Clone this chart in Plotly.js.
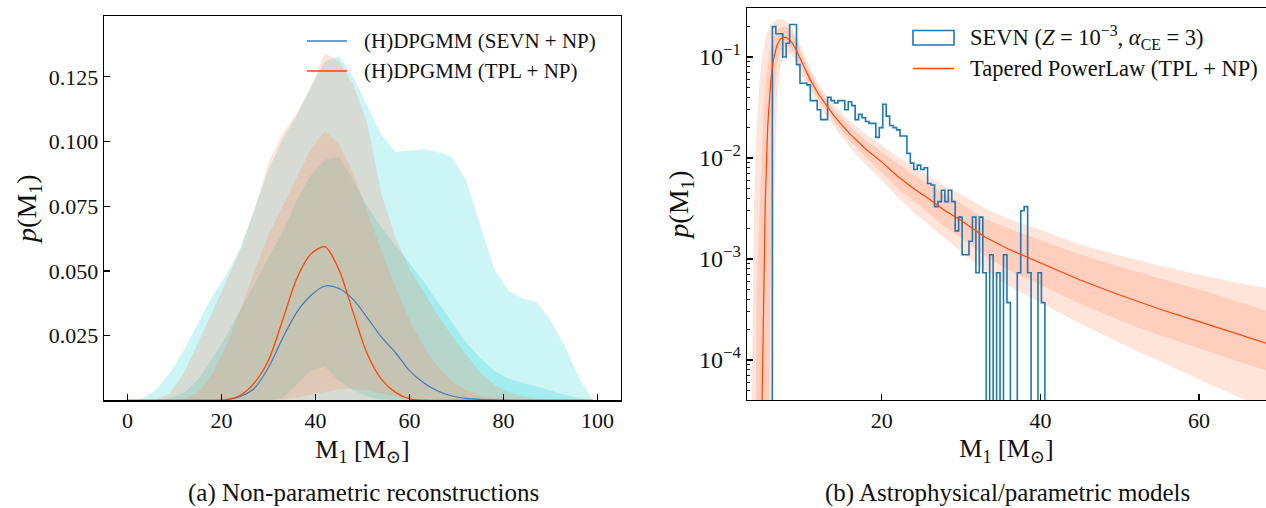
<!DOCTYPE html>
<html>
<head>
<meta charset="utf-8">
<script src="https://cdn.plot.ly/plotly-3.0.1.min.js"></script>
<style>html,body{margin:0;padding:0;background:#fff;}</style>
</head>
<body>
<div id="chart" style="width:1266px;height:508px;"></div>
<script>
// ---------- (a) Non-parametric reconstructions ----------
const massGrid = [0,3,6,9,12,15,18,21,24,27,30,33,36,39,42,45,48,51,54,57,60,63,66,69,72,75,78,81,84,87,90,93,96,99];

// SEVN + NP : 90% and 68% credible bands, median
const sevnLo90 = [0,0,0,0,0,0,0,0,0,0,0,0,0,0,0,0,0,0,0,0,0,0,0,0,0,0,0,0,0,0,0,0,0,0];
const sevnHi90 = [0,0.0005,0.004,0.0105,0.0195,0.030,0.040,0.0485,0.059,0.074,0.089,0.101,0.110,0.121,0.131,0.133,0.125,0.114,0.1025,0.096,0.0965,0.097,0.096,0.094,0.085,0.068,0.051,0.0425,0.0395,0.038,0.031,0.021,0.009,0];
const sevnLo68 = [0,0,0,0,0,0,0,0,0,0,0,0.001,0.006,0.0115,0.013,0.0075,0.004,0.0015,0.0003,0,0,0,0,0,0,0,0,0,0,0,0,0,0,0];
const sevnHi68 = [0,0,0,0.001,0.003,0.008,0.016,0.025,0.035,0.045,0.055,0.065,0.077,0.087,0.093,0.094,0.085,0.075,0.067,0.060,0.053,0.046,0.038,0.030,0.0225,0.0165,0.0115,0.0085,0.0068,0.0055,0.0038,0.0022,0.0008,0];
const sevnMedian = [0,0,0,0,0,0,0,0.0002,0.0015,0.0047,0.0127,0.024,0.034,0.0405,0.0442,0.0432,0.039,0.032,0.0245,0.0185,0.0115,0.0068,0.0036,0.0017,0.0008,0.0004,0.0002,0.0001,0,0,0,0,0,0];

// TPL + NP : 90% and 68% credible bands, median
const tplLo90 = [0,0,0,0,0,0,0,0,0,0,0,0,0,0,0,0,0,0,0,0,0,0,0,0,0,0,0,0,0,0,0,0,0,0];
const tplHi90 = [0,0,0.0003,0.0028,0.0105,0.022,0.034,0.046,0.058,0.0734,0.092,0.103,0.111,0.121,0.134,0.131,0.122,0.107,0.080,0.063,0.051,0.042,0.033,0.025,0.018,0.0108,0.006,0.0033,0.0016,0.0006,0.0001,0,0,0];
const tplLo68 = [0,0,0,0,0,0,0,0,0,0,0,0.0003,0.001,0.0022,0.0033,0.0042,0.0045,0.0038,0.0026,0.0015,0.0007,0.0002,0,0,0,0,0,0,0,0,0,0,0,0];
const tplHi68 = [0,0,0,0,0.0005,0.003,0.01,0.021,0.035,0.05,0.064,0.075,0.086,0.097,0.104,0.099,0.088,0.073,0.058,0.044,0.031,0.021,0.013,0.0075,0.004,0.002,0.0008,0.0002,0,0,0,0,0,0];
const tplMedian = [0,0,0,0,0,0,0,0.0003,0.002,0.0068,0.0155,0.031,0.047,0.0565,0.0594,0.0505,0.034,0.018,0.0082,0.0031,0.0006,0.0001,0,0,0,0,0,0,0,0,0,0,0,0];

const leftXTicks = [0,20,40,60,80,100];
const leftYTicks = [0.025,0.050,0.075,0.100,0.125];

// ---------- (b) Astrophysical / parametric models ----------
// SEVN (Z = 1e-3, alpha_CE = 3) histogram, density per bin
const binStart = 6.2;
const binWidth = 0.435;
const sevnDensity = [
  0.20, 0.17, 0.17, 0.10, 0.137, 0.21, 0.21, 0.084, 0.055, 0.055,
  0.053, 0.037, 0.037, 0.030, 0.024, 0.024, 0.040, 0.037, 0.035, 0.037,
  0.037, 0.030, 0.036, 0.033, 0.024, 0.027, 0.025, 0.023, 0.022, 0.022,
  0.016, 0.020, 0.034, 0.026, 0.021, 0.020, 0.019, 0.0165, 0.0165, 0.0111,
  0.0089, 0.0077, 0.0085, 0.0077, 0.0080, 0.0056, 0.0054, 0.0033, 0.0037, 0.0048,
  0.0037, 0.0048, 0.0037, 0.0019, 0.0026, 0.0011, 0.0011, 0.0015, 0.0026, 0.00073,
  0.0026, 0.00073, 0, 0.0011, 0, 0.00073, 0, 0.0011, 0.00037, 0,
  0, 0.00073, 0.0030, 0.0033, 0.00073, 0, 0, 0.00073, 0.00037
];

// Tapered power law (TPL + NP): median with 68% and 90% bands
const tplMass = [3.2,3.6,3.9,4.2,4.6,4.9,5.1,5.3,5.6,5.8,6.0,6.2,6.4,6.8,7.2,7.6,8.0,8.6,9.2,10,11,12,13,14,15,16,18,20,22,24,26,28,30,33,36,40,45,50,55,60,65,69];
const tplMed = [0,0,0,0,0,4e-5,7e-4,0.0035,0.02,0.037,0.058,0.08,0.1,0.132,0.15,0.157,0.155,0.142,0.118,0.086,0.059,0.043,0.033,0.026,0.021,0.0172,0.0122,0.0091,0.0066,0.0050,0.0039,0.0030,0.0024,0.00165,0.00125,0.00092,0.00062,0.00044,0.00032,0.00024,0.000178,0.000142];
const tplHi95 = [0,5e-5,0.004,0.02,0.06,0.1,0.125,0.15,0.18,0.195,0.207,0.217,0.225,0.233,0.236,0.233,0.225,0.203,0.165,0.116,0.0767,0.055,0.0419,0.0333,0.0273,0.0229,0.0171,0.0134,0.0102,0.0081,0.00655,0.00525,0.00437,0.00317,0.0025,0.00195,0.00138,0.00108,0.00086,0.0007,0.00058,0.00051];
const tplLo5 = [0,0,0,0,0,0,0,0,0,0,0,5e-5,0.003,0.04,0.08,0.1,0.108,0.105,0.09,0.0636,0.0454,0.0335,0.0261,0.0203,0.016,0.0127,0.0085,0.006,0.0041,0.0029,0.00215,0.00156,0.00118,0.00076,0.00054,0.00037,0.00023,0.000148,0.000097,0.000064,0.000043,0.000032];
const tplHi84 = [0,0,0,5e-4,0.0034,0.015,0.03,0.05,0.085,0.105,0.125,0.142,0.157,0.182,0.196,0.2,0.197,0.18,0.148,0.103,0.069,0.0495,0.0376,0.0299,0.0244,0.0203,0.0149,0.0114,0.0087,0.0068,0.00546,0.00432,0.00355,0.00251,0.002,0.00155,0.00111,0.00084,0.00064,0.0005,0.00038,0.0003];
const tplLo16 = [0,0,0,0,0,0,0,0,0,5e-5,0.002,0.015,0.04,0.085,0.113,0.125,0.127,0.12,0.1,0.074,0.0512,0.0378,0.0294,0.023,0.0183,0.0148,0.0101,0.0072,0.005,0.00375,0.00277,0.00207,0.00161,0.00107,0.00078,0.00055,0.00036,0.000247,0.000176,0.000131,0.000096,0.000077];

const rightXTicks = [20,40,60];
const rightYTicks = [1e-4,1e-3,1e-2,1e-1];
const rightYTickText = ['10<sup>−4</sup>','10<sup>−3</sup>','10<sup>−2</sup>','10<sup>−1</sup>'];

// ---------- styling ----------
const FONT = 'Liberation Serif, DejaVu Serif, serif';
const CYAN = 'rgba(0,206,209,0.20)';
const SALMON = 'rgba(255,127,80,0.21)';
const BLUE_MED = '#3f7cbf';
const RED = '#ff4500';
const HIST_BLUE = '#1f77b4';
const FLOOR = 1e-7; // empty values drop below the log axis

const W = 1266, H = 508;
const px = x => x / W;
const py = y => 1 - y / H;

function band(x, lo, hi, color, xa, ya, shape) {
  return [
    {x: x, y: lo, xaxis: xa, yaxis: ya, type: 'scatter', mode: 'lines',
     line: {width: 0, shape: shape}, hoverinfo: 'skip'},
    {x: x, y: hi, xaxis: xa, yaxis: ya, type: 'scatter', mode: 'lines',
     line: {width: 0, shape: shape}, fill: 'tonexty', fillcolor: color, hoverinfo: 'skip'}
  ];
}
const onLog = a => a.map(v => (v > 0 ? v : FLOOR));

// histogram outline as a step path
const edges = sevnDensity.map((_, k) => binStart + k * binWidth);
edges.push(binStart + sevnDensity.length * binWidth);
const histX = [edges[0]], histY = [FLOOR];
sevnDensity.forEach((v, k) => {
  const h = v > 0 ? v : FLOOR;
  histX.push(edges[k], edges[k + 1]);
  histY.push(h, h);
});
histX.push(edges[edges.length - 1]);
histY.push(FLOOR);

const traces = [
  ...band(massGrid, sevnLo90, sevnHi90, CYAN, 'x', 'y', 'linear'),
  ...band(massGrid, sevnLo68, sevnHi68, CYAN, 'x', 'y', 'linear'),
  ...band(massGrid, tplLo90, tplHi90, SALMON, 'x', 'y', 'linear'),
  ...band(massGrid, tplLo68, tplHi68, SALMON, 'x', 'y', 'linear'),
  {x: massGrid, y: sevnMedian, xaxis: 'x', yaxis: 'y', type: 'scatter', mode: 'lines',
   line: {color: BLUE_MED, width: 1.2, shape: 'spline', smoothing: 0.8}},
  {x: massGrid, y: tplMedian, xaxis: 'x', yaxis: 'y', type: 'scatter', mode: 'lines',
   line: {color: RED, width: 1.3, shape: 'spline', smoothing: 0.8}},

  ...band(tplMass, onLog(tplLo5), onLog(tplHi95), SALMON, 'x2', 'y2', 'linear'),
  ...band(tplMass, onLog(tplLo16), onLog(tplHi84), SALMON, 'x2', 'y2', 'linear'),
  {x: histX, y: histY, xaxis: 'x2', yaxis: 'y2', type: 'scatter', mode: 'lines',
   line: {color: HIST_BLUE, width: 1.6}},
  {x: tplMass, y: onLog(tplMed), xaxis: 'x2', yaxis: 'y2', type: 'scatter', mode: 'lines',
   line: {color: RED, width: 1.2}}
];

const axisBase = {
  showgrid: false, zeroline: false, showline: true, linecolor: '#000', linewidth: 1.3,
  ticks: 'inside', ticklen: 6, tickwidth: 1.1, tickcolor: '#000',
  tickfont: {family: FONT, size: 22, color: '#111'}
};

const minorLog = [];
for (let d = -5; d <= -1; d++) for (let m = 2; m <= 9; m++) minorLog.push(m * Math.pow(10, d));

const titleFont = s => ({family: FONT, size: s, color: '#111'});

const layout = {
  width: W, height: H,
  margin: {l: 0, r: 0, t: 0, b: 0},
  paper_bgcolor: '#fff', plot_bgcolor: 'rgba(0,0,0,0)',
  showlegend: false,
  font: {family: FONT, color: '#111'},
  xaxis: Object.assign({}, axisBase, {
    domain: [px(104), px(621)], range: [-5, 105], anchor: 'y', mirror: true,
    tickvals: leftXTicks,
    title: {text: 'M<sub>1</sub> [M<sub>⊙</sub>]', font: titleFont(26), standoff: 7}
  }),
  yaxis: Object.assign({}, axisBase, {
    domain: [1 - 400.4 / H, 1 - 16 / H], range: [0, 0.1485], anchor: 'x', mirror: true,
    tickvals: leftYTicks, tickformat: '.3f',
    title: {text: '<i>p</i>(M<sub>1</sub>)', font: titleFont(28), standoff: 4}
  }),
  xaxis2: Object.assign({}, axisBase, {
    domain: [px(747), 1], range: [3, 68.45], anchor: 'y2', mirror: true,
    tickvals: rightXTicks,
    title: {text: 'M<sub>1</sub> [M<sub>⊙</sub>]', font: titleFont(26), standoff: 7}
  }),
  yaxis2: Object.assign({}, axisBase, {
    domain: [1 - 400 / H, 1 - 8 / H], type: 'log', range: [-4.396, -0.515], anchor: 'x2',
    tickvals: rightYTicks, ticktext: rightYTickText,
    tickfont: {family: FONT, size: 24, color: '#111'},
    minor: {tickvals: minorLog, ticks: 'inside', ticklen: 3, tickwidth: 0.9, tickcolor: '#000', showgrid: false},
    title: {text: '<i>p</i>(M<sub>1</sub>)', font: titleFont(28), standoff: 2}
  }),
  shapes: [
    // legend keys, panel (a)
    {type: 'line', xref: 'paper', yref: 'paper', x0: px(307), x1: px(347), y0: py(41), y1: py(41),
     line: {color: BLUE_MED, width: 1.3}},
    {type: 'line', xref: 'paper', yref: 'paper', x0: px(307), x1: px(347), y0: py(71), y1: py(71),
     line: {color: RED, width: 1.3}},
    // legend keys, panel (b)
    {type: 'rect', xref: 'paper', yref: 'paper', x0: px(913), x1: px(954), y0: py(30.5), y1: py(45),
     line: {color: HIST_BLUE, width: 1.6}, fillcolor: 'rgba(0,0,0,0)'},
    {type: 'line', xref: 'paper', yref: 'paper', x0: px(913), x1: px(954), y0: py(68.5), y1: py(68.5),
     line: {color: RED, width: 1.3}}
  ],
  annotations: [
    {xref: 'paper', yref: 'paper', x: px(362), y: py(41), xanchor: 'left', yanchor: 'middle', showarrow: false,
     text: '(H)DPGMM (SEVN + NP)', font: titleFont(21)},
    {xref: 'paper', yref: 'paper', x: px(362), y: py(71), xanchor: 'left', yanchor: 'middle', showarrow: false,
     text: '(H)DPGMM (TPL + NP)', font: titleFont(21)},
    {xref: 'paper', yref: 'paper', x: px(968), y: py(38), xanchor: 'left', yanchor: 'middle', showarrow: false,
     text: 'SEVN (<i>Z</i> = 10<sup>−3</sup>, <i>α</i><sub>CE</sub> = 3)', font: titleFont(22.5)},
    {xref: 'paper', yref: 'paper', x: px(968), y: py(68.5), xanchor: 'left', yanchor: 'middle', showarrow: false,
     text: 'Tapered PowerLaw (TPL + NP)', font: titleFont(22.5)},
    // panel captions
    {xref: 'paper', yref: 'paper', x: px(363), y: py(493), xanchor: 'center', yanchor: 'middle', showarrow: false,
     height: 26, borderpad: 0, valign: 'middle',
     text: '(a) Non-parametric reconstructions', font: titleFont(25)},
    {xref: 'paper', yref: 'paper', x: px(1007), y: py(493), xanchor: 'center', yanchor: 'middle', showarrow: false,
     height: 26, borderpad: 0, valign: 'middle',
     text: '(b) Astrophysical/parametric models', font: titleFont(25)}
  ]
};

Plotly.newPlot('chart', traces, layout, {staticPlot: true, displayModeBar: false});
</script>
</body>
</html>
